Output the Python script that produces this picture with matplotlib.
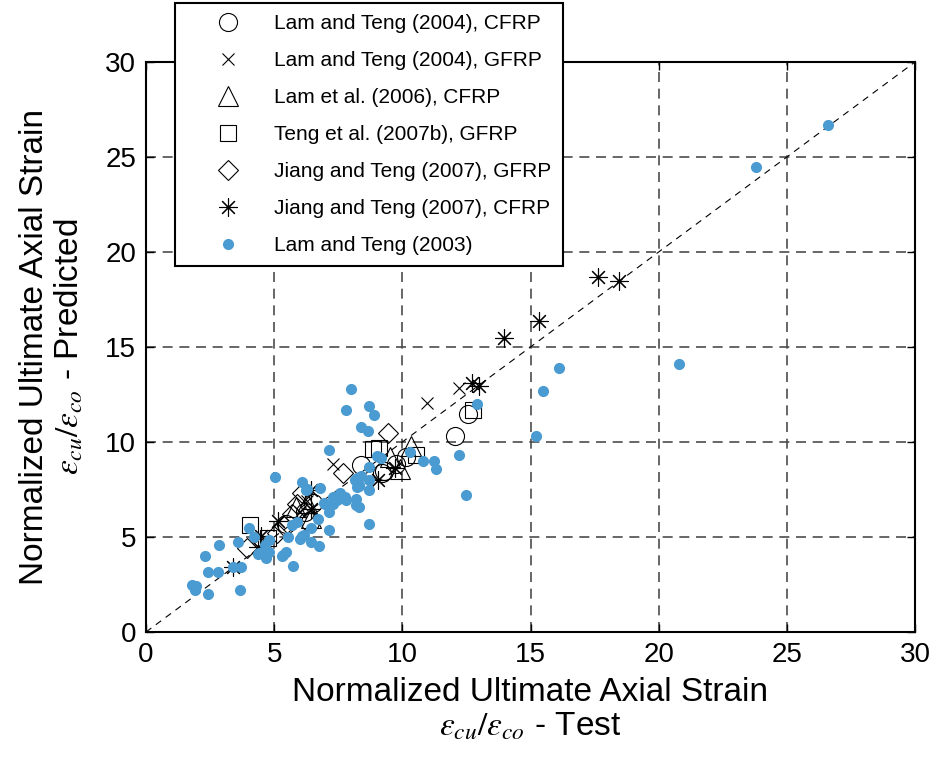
import matplotlib
matplotlib.use("Agg")
import matplotlib.pyplot as plt
import numpy as np

plt.rcParams['font.family'] = ['Liberation Sans', 'DejaVu Sans']
plt.rcParams['mathtext.fontset'] = 'stix'

# Lam and Teng (2004), CFRP
circ_x = [12.55, 12.05, 8.4, 9.2, 9.75, 10.15, 6.4, 6.5, 5.45, 6.2, 9.3]
circ_y = [11.5, 10.3, 8.8, 8.35, 8.85, 9.2, 5.8, 6.8, 5.7, 6.3, 8.5]
# Lam and Teng (2004), GFRP
cross_x = [12.2, 10.95, 7.3, 6.3, 6.0, 4.7]
cross_y = [12.85, 12.05, 8.85, 6.9, 6.3, 4.7]
# Lam et al. (2006), CFRP
tri_x = [10.35, 9.5, 5.85, 6.3, 6.45, 9.9]
tri_y = [9.8, 9.2, 6.6, 6.8, 6.0, 8.6]
# Teng et al. (2007b), GFRP
sq_x = [12.75, 8.85, 9.1, 10.55, 4.05, 4.75]
sq_y = [11.7, 9.65, 9.7, 9.3, 5.65, 4.95]
# Jiang and Teng (2007), GFRP
dia_x = [9.45, 7.7, 3.95, 5.1, 5.9, 6.1, 5.4, 5.7]
dia_y = [10.5, 8.35, 4.4, 5.2, 6.75, 7.3, 5.6, 6.2]
# Jiang and Teng (2007), CFRP
ast_x = [17.65, 18.45, 15.35, 13.95, 12.7, 13.0, 9.05, 9.7, 5.15, 4.5, 4.35, 3.4, 6.45, 6.45]
ast_y = [18.7, 18.5, 16.35, 15.45, 13.1, 12.95, 8.0, 8.65, 5.85, 5.05, 4.45, 3.4, 7.5, 6.5]
# Lam and Teng (2003)
lt03_x = [26.6, 23.8, 20.8, 16.1, 15.5, 15.2, 12.9, 12.2, 12.5,
          8.0, 8.7, 7.8, 8.9, 8.4, 8.65, 7.15, 9.1, 10.3, 10.8, 11.25, 11.3,
          8.7, 8.4, 8.25, 8.7, 8.3, 8.7, 7.55, 7.3, 7.8, 8.2, 7.3, 6.8, 6.3, 6.95,
          8.2, 8.3, 7.15, 6.7, 8.7, 7.15, 6.45, 6.15,
          5.05, 6.1, 6.25, 7.75, 7.45,
          4.0, 4.2, 2.85, 3.6, 2.3, 2.4, 2.8, 3.7, 3.4, 1.8, 1.95, 1.9, 2.4, 3.65,
          4.4, 4.7, 4.8, 5.3, 5.45, 5.75, 5.55, 6.0, 6.1, 6.45, 6.75, 4.65, 4.8,
          4.35, 9.0, 9.15, 8.15, 8.25, 5.9, 5.35, 5.7, 7.0, 8.3]
lt03_y = [26.7, 24.5, 14.1, 13.9, 12.7, 10.3, 12.0, 9.3, 7.2,
          12.8, 11.9, 11.7, 11.4, 10.8, 10.6, 9.6, 9.2, 9.5, 9.0, 9.0, 8.6,
          8.7, 8.2, 8.1, 8.0, 7.7, 7.5, 7.3, 7.1, 6.95, 7.0, 6.75, 7.6, 7.55, 6.8,
          6.7, 6.6, 6.3, 5.95, 5.7, 5.35, 5.5, 5.1,
          8.15, 7.9, 7.5, 7.1, 6.95,
          5.5, 5.0, 4.6, 4.75, 4.0, 3.15, 3.15, 3.4, 3.4, 2.45, 2.4, 2.2, 2.0, 2.2,
          4.15, 3.9, 4.2, 4.0, 4.2, 3.5, 5.0, 4.9, 5.05, 4.75, 4.55, 4.6, 4.85,
          4.1, 9.25, 9.15, 8.0, 7.65, 5.8, 4.05, 5.65, 6.75, 7.75]

fig = plt.figure(figsize=(9.37, 7.57), dpi=100)
ax = fig.add_axes([146/937, 125/757, 769/937, 570/757])

grid_kw = dict(color='0.3', lw=1.2, ls=(0, (6, 4)), zorder=1)
for v in [5, 10, 15, 20, 25]:
    ax.axvline(v, **grid_kw)
    ax.axhline(v, **grid_kw)
ax.plot([0, 30], [0, 30], color='k', lw=0.8, ls=(0, (6, 5)), zorder=2)

mk = dict(ls='none', mfc='none', mec='k', mew=0.8, zorder=3)
ax.plot(circ_x, circ_y, marker='o', ms=13, label='Lam and Teng (2004), CFRP', **mk)
ax.plot(cross_x, cross_y, marker='x', ms=9, label='Lam and Teng (2004), GFRP', **mk)
ax.plot(tri_x, tri_y, marker='^', ms=14, label='Lam et al. (2006), CFRP', **mk)
ax.plot(sq_x, sq_y, marker='s', ms=12, label='Teng et al. (2007b), GFRP', **mk)
ax.plot(dia_x, dia_y, marker='D', ms=10, label='Jiang and Teng (2007), GFRP', **mk)
ax.plot(ast_x, ast_y, marker=(8, 2, 0), ms=13, label='Jiang and Teng (2007), CFRP', **mk)
ax.plot(lt03_x, lt03_y, marker='o', ms=7, ls='none', color='#4a9bd1', mec='#4a9bd1',
        label='Lam and Teng (2003)', zorder=4)

ax.set_xlim(0, 30)
ax.set_ylim(0, 30)
ax.set_xticks(np.arange(0, 31, 5))
ax.set_yticks(np.arange(0, 31, 5))
ax.tick_params(direction='in', top=True, right=True, labelsize=20, length=6, width=1, pad=7)
for s in ax.spines.values():
    s.set_linewidth(1.5)

ax.set_xlabel('Normalized Ultimate Axial Strain\n'
              r'$\varepsilon_{cu}/\varepsilon_{co}$ - Test', fontsize=24,
              linespacing=1.1, labelpad=7)
ax.set_ylabel('Normalized Ultimate Axial Strain\n'
              r'$\varepsilon_{cu}/\varepsilon_{co}$ - Predicted', fontsize=24,
              linespacing=1.15, labelpad=14)

leg = fig.legend(loc='upper left', bbox_to_anchor=(175/937, 1 - 3/757), fontsize=15,
                 numpoints=1, fancybox=False, edgecolor='k', framealpha=1,
                 labelspacing=0.86, handlelength=4.0, handletextpad=0.2,
                 borderpad=0.55, borderaxespad=0)
leg.get_frame().set_linewidth(1.5)

fig.savefig('out.png', dpi=100)
